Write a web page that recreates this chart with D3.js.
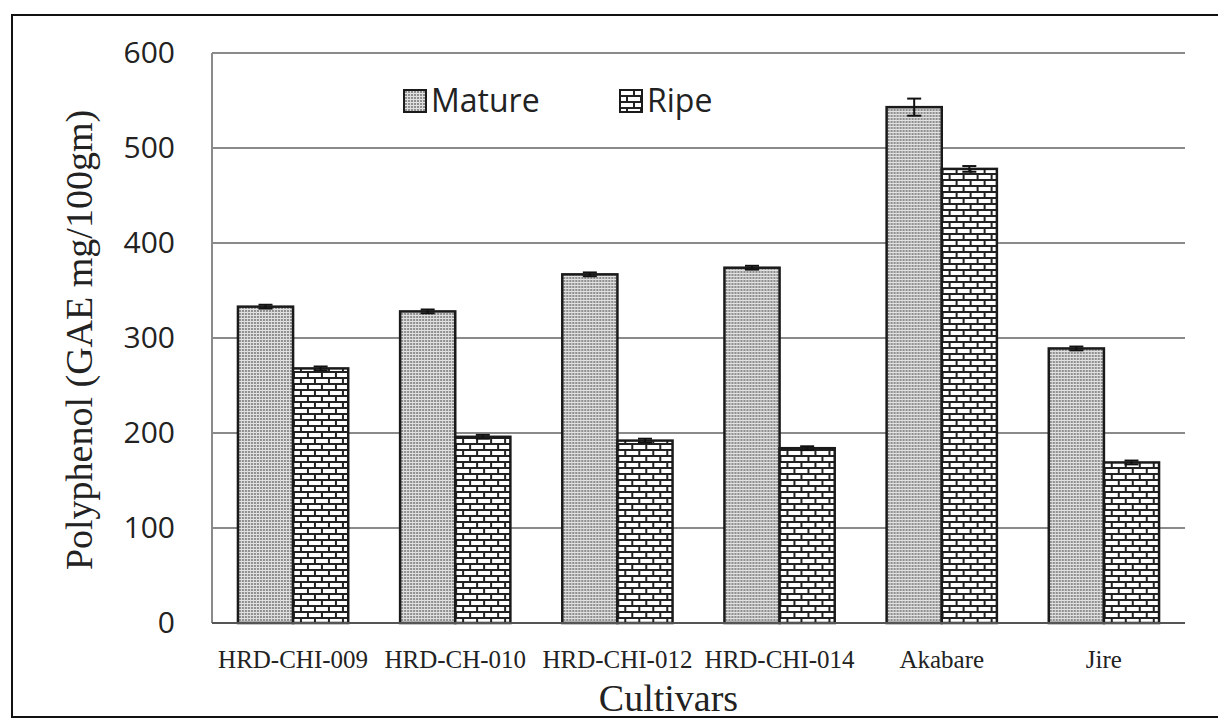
<!DOCTYPE html>
<html><head><meta charset="utf-8">
<script src="https://cdn.jsdelivr.net/npm/d3@7"></script>
<style>body{margin:0;background:#fff}svg{display:block}</style>
</head><body>
<svg id="chart" width="1218" height="718"></svg>
<script>
const categories = ["HRD-CHI-009","HRD-CH-010","HRD-CHI-012","HRD-CHI-014","Akabare","Jire"];
const series = ["Mature","Ripe"];
const matureValues = [333, 328, 367, 374, 543, 289];
const ripeValues   = [268, 196, 192, 184, 478, 169];
const matureErrors = [2, 2, 2, 2, 9, 2];
const ripeErrors   = [2, 2, 2, 2, 3, 2];
const yTicks = [0, 100, 200, 300, 400, 500, 600];

const svg = d3.select("#chart");
const m = {left: 212, right: 1185, top: 53, bottom: 623};

const defs = svg.append("defs");
const pm = defs.append("pattern").attr("id","pMature").attr("patternUnits","userSpaceOnUse")
  .attr("width",3).attr("height",3);
pm.append("rect").attr("width",3).attr("height",3).attr("fill","#8f8f8f");
pm.append("rect").attr("x",0).attr("y",0).attr("width",3).attr("height",1).attr("fill","#e4e4e4");
pm.append("rect").attr("x",0).attr("y",0).attr("width",1).attr("height",3).attr("fill","#dcdcdc");
const pr = defs.append("pattern").attr("id","pRipe").attr("patternUnits","userSpaceOnUse")
  .attr("width",14).attr("height",12);
pr.append("rect").attr("width",14).attr("height",12).attr("fill","#222");
pr.append("rect").attr("x",1).attr("y",1).attr("width",12).attr("height",4).attr("fill","#fff");
pr.append("rect").attr("x",-6).attr("y",7).attr("width",12).attr("height",4).attr("fill","#fff");
pr.append("rect").attr("x",8).attr("y",7).attr("width",12).attr("height",4).attr("fill","#fff");

svg.append("rect").attr("x",12).attr("y",15).attr("width",1230).attr("height",702)
  .attr("fill","none").attr("stroke","#111").attr("stroke-width",2);

const y = d3.scaleLinear().domain([0,600]).range([m.bottom, m.top]);
const x0 = d3.scaleBand().domain(categories).range([m.left, m.right]).paddingInner(0.32).paddingOuter(0.16);
const x1 = d3.scaleBand().domain(series).range([0, x0.bandwidth()]);

svg.append("g").selectAll("line").data(yTicks.filter(d=>d>0)).join("line")
  .attr("x1", m.left).attr("x2", m.right).attr("y1", d=>y(d)).attr("y2", d=>y(d))
  .attr("stroke","#8a8a8a").attr("stroke-width",2);
svg.append("line").attr("x1",m.left).attr("x2",m.left).attr("y1",m.top).attr("y2",m.bottom)
  .attr("stroke","#8a8a8a").attr("stroke-width",2);

const yAxis = d3.axisLeft(y).tickValues(yTicks).tickSize(0).tickPadding(0);
const gy = svg.append("g").attr("transform",`translate(${m.left-37},0)`).call(yAxis);
gy.select(".domain").remove();
gy.selectAll("text").attr("font-family","'Open Sans', sans-serif").attr("font-size",30).attr("fill","#222");

const data = categories.map((c,i)=>({c, vals:[
  {s:"Mature", v:matureValues[i], e:matureErrors[i]},
  {s:"Ripe", v:ripeValues[i], e:ripeErrors[i]}]}));

const groups = svg.append("g").selectAll("g").data(data).join("g")
  .attr("transform", d=>`translate(${x0(d.c)},0)`);
groups.selectAll("rect").data(d=>d.vals).join("rect")
  .attr("x", d=>x1(d.s)).attr("width", x1.bandwidth())
  .attr("y", d=>y(d.v)).attr("height", d=>y(0)-y(d.v))
  .attr("fill", d=> d.s==="Mature" ? "url(#pMature)" : "url(#pRipe)")
  .attr("stroke","#1a1a1a").attr("stroke-width",2.5);
const eb = groups.selectAll("g.eb").data(d=>d.vals).join("g").attr("class","eb");
const cx = d=>x1(d.s)+x1.bandwidth()/2;
eb.append("line").attr("x1",cx).attr("x2",cx)
  .attr("y1",d=>y(d.v+d.e)).attr("y2",d=>y(d.v-d.e)).attr("stroke","#111").attr("stroke-width",2);
eb.append("line").attr("x1",d=>cx(d)-7).attr("x2",d=>cx(d)+7)
  .attr("y1",d=>y(d.v+d.e)).attr("y2",d=>y(d.v+d.e)).attr("stroke","#111").attr("stroke-width",2);
eb.append("line").attr("x1",d=>cx(d)-7).attr("x2",d=>cx(d)+7)
  .attr("y1",d=>y(d.v-d.e)).attr("y2",d=>y(d.v-d.e)).attr("stroke","#111").attr("stroke-width",2);

svg.append("line").attr("x1",m.left).attr("x2",m.right).attr("y1",m.bottom).attr("y2",m.bottom)
  .attr("stroke","#555").attr("stroke-width",2);

const xAxis = d3.axisBottom(x0).tickSize(0).tickPadding(0);
const gx = svg.append("g").attr("transform",`translate(0,${m.bottom})`).call(xAxis);
gx.select(".domain").remove();
gx.selectAll("text").attr("dy",null).attr("y",45).attr("font-family","'Liberation Serif', serif").attr("font-size",25).attr("fill","#222");

svg.append("text").attr("x",(m.left+m.right)/2 - 30).attr("y",711).attr("text-anchor","middle")
  .attr("font-family","'Liberation Serif', serif").attr("font-size",38).attr("fill","#222").text("Cultivars");
svg.append("text").attr("transform","translate(92,340) rotate(-90)").attr("text-anchor","middle")
  .attr("font-family","'Liberation Serif', serif").attr("font-size",38).attr("fill","#222")
  .text("Polyphenol (GAE mg/100gm)");

const legend = [{s:"Mature", x:404, fill:"url(#pMature)"},{s:"Ripe", x:620, fill:"url(#pRipe)"}];
const lg = svg.append("g").selectAll("g").data(legend).join("g")
  .attr("transform", d=>`translate(${d.x},90)`);
lg.append("rect").attr("width",22).attr("height",22).attr("fill",d=>d.fill)
  .attr("stroke","#1a1a1a").attr("stroke-width",2);
lg.append("text").attr("x",27).attr("y",22).attr("font-family","'Open Sans', sans-serif")
  .attr("font-size",32).attr("fill","#222").text(d=>d.s);
</script>
</body></html>
